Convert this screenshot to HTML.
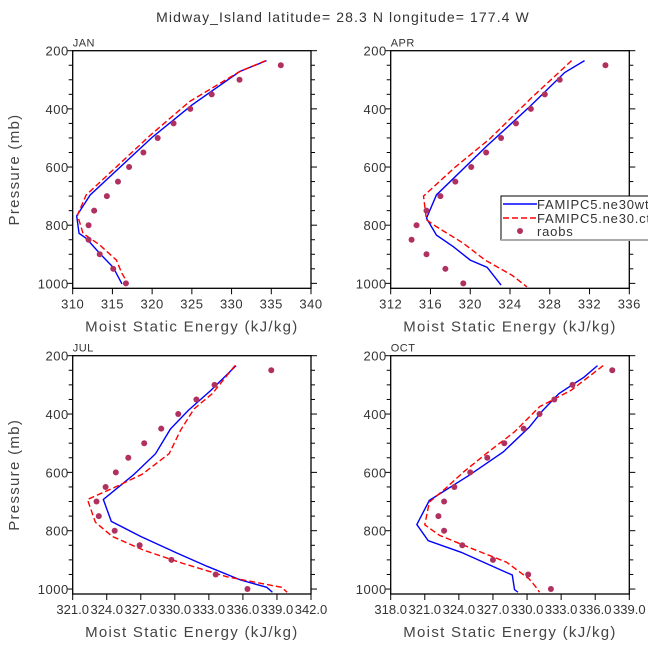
<!DOCTYPE html>
<html><head><meta charset="utf-8"><style>
body{margin:0;background:#fff}
svg{display:block;font-family:"Liberation Sans",sans-serif}
</style></head><body>
<svg id="c" width="648" height="649"></svg>
<script>
const pLevels=[250,300,350,400,450,500,550,600,650,700,750,800,850,900,950,1000];
const janObs=[336.2,331,327.5,324.8,322.7,320.7,318.9,317.1,315.7,314.3,312.7,312,312,313.4,315.1,316.7];
const janBlueX=[334.4,331.0,325,320,312.2,310.5,310.8,311.7,313.4,315.1,316.2];
const janBlueP=[234,272,387,498,696,768,828,845,897,945,1002];
const janRedX=[334.3,331,324.7,319.8,311.7,310.6,311.3,313.4,315.5,316.2,317.0];
const janRedP=[234,272,375,490,696,765,828,868,920,966,1002];
const aprObs=[333.6,329,327.5,326.1,324.6,323.1,321.6,320.1,318.5,317,315.6,314.6,314.1,315.6,317.5,319.3];
const aprBlueX=[331.5,329.5,326.0,321.6,316.6,315.6,316.6,318.3,320.0,321.7,323.1];
const aprBlueP=[234,275,392,530,696,776,834,874,920,945,1006];
const aprRedX=[330.2,326.1,322.0,318.5,315.3,315.6,316.6,319.3,321.5,322.8,324.2,325.7];
const aprRedP=[234,364,502,600,700,782,805,862,920,945,972,1012];
const julObs=[338.5,333.5,331.9,330.3,328.8,327.3,325.9,324.8,323.9,323.1,323.3,324.7,326.9,329.7,333.6,336.4];
const julBlueX=[335.4,333.2,331.2,329.6,328.3,326.4,323.7,324.4,327.0,330.2,332.9,335.8,338.1,338.6];
const julBlueP=[234,318,387,452,536,607,693,768,820,877,923,969,994,1011];
const julRedX=[335.3,333.3,331.7,330.5,329.5,327.1,324.6,322.3,323.0,324.5,327.2,330.7,334.6,339.4,339.9];
const julRedP=[234,330,382,456,536,607,653,693,771,820,866,912,958,994,1011];
const octObs=[337.5,334,332.4,331.1,329.7,328,326.5,325,323.6,322.7,322.2,322.7,324.3,327,330.1,332.1];
const octBlueX=[336.2,335.0,332.8,331.4,330.2,327.9,324.9,321.4,320.3,321.3,324.2,328.7,328.9,329.2];
const octBlueP=[234,274,330,387,445,530,610,696,779,834,874,952,1002,1011];
const octRedX=[336.7,333.9,331.1,328.9,326.4,324.4,322.8,321.4,321.0,322.3,325.2,328.2,330.2,330.8,331.1];
const octRedP=[234,318,375,461,536,599,656,702,780,816,862,908,966,994,1011];
const janTicks=[310,315,320,325,330,335,340];
const aprTicks=[312,316,320,324,328,332,336];
const julTicks=[321,324,327,330,333,336,339,342];
const octTicks=[318,321,324,327,330,333,336,339];
const yTicks=[200,400,600,800,1000];

const S='http://www.w3.org/2000/svg';
const svg=document.getElementById('c');
function el(t,a,parent){const e=document.createElementNS(S,t);for(const k in a)e.setAttribute(k,a[k]);(parent||svg).appendChild(e);return e;}
function txt(s,a,parent){const e=el('text',a,parent);e.textContent=s;return e;}

const t=txt('Midway_Island  latitude= 28.3 N longitude= 177.4 W',{x:343,y:22,'text-anchor':'middle','font-size':14,'letter-spacing':1.1,fill:'#333','xml:space':'preserve'});



function panel(name,L,R,T,B,xmin,xmax,ticks,dec,obs,bx,bp,rx,rp,showY){
  const g=el('g',{});
  
  
  const yPer=(B-T)/817;
  const Y=p=>T+(p-200)*yPer;
  const X=v=>L+(v-xmin)/(xmax-xmin)*(R-L);
  const fr=el('rect',{x:L,y:T,width:R-L,height:B-T,fill:'none',stroke:'#000','stroke-width':1.3},g);
  
  
  for(let p=200;p<=1000;p+=50){
    const major=p%200===0;const len=major?6:4;
    el('line',{x1:L-len,x2:L,y1:Y(p),y2:Y(p),stroke:'#000'},g);
    el('line',{x1:R,x2:R+len,y1:Y(p),y2:Y(p),stroke:'#000'},g);
  }
  for(const p of yTicks){
    const lb=txt(String(p),{x:L-4,y:Y(p)+5,'text-anchor':'end','font-size':13,'letter-spacing':0.5,fill:'#333'},g);
    
    
  }
  for(const v of ticks){
    el('line',{x1:X(v),x2:X(v),y1:B,y2:B+6,stroke:'#000'},g);
    const lb=txt(dec?v.toFixed(1):String(v),{x:X(v),y:B+20,'text-anchor':'middle','font-size':13,'letter-spacing':dec?0:0.5,fill:'#333'},g);
    
    
  }
  const xt=txt('Moist Static Energy (kJ/kg)',{x:(L+R)/2,y:B+43,'text-anchor':'middle','font-size':15,'letter-spacing':1.3,fill:'#444'},g);
  
  
  if(showY){
    const yt=txt('Pressure (mb)',{x:0,y:0,transform:`translate(19,${(T+B)/2}) rotate(-90)`,'text-anchor':'middle','font-size':15,'letter-spacing':1.3,fill:'#444'},g);
    
    
  }
  const pn=txt(name,{x:L,y:T-4,'font-size':11,'letter-spacing':0.5,fill:'#333'},g);
  
  
  const bl=el('polyline',{points:bx.map((v,i)=>X(v)+','+Y(bp[i])).join(' '),fill:'none',stroke:'#0000ff','stroke-width':1.4},g);
  
  
  const rl=el('polyline',{points:rx.map((v,i)=>X(v)+','+Y(rp[i])).join(' '),fill:'none',stroke:'#ff0000','stroke-width':1.4,'stroke-dasharray':'6,3'},g);
  
  
  obs.forEach((v,i)=>{
    const c=el('circle',{cx:X(v),cy:Y(pLevels[i]),r:3,fill:'#b03060'},g);
    
    
  });
}
panel('JAN',72.7,311,50.7,288.3,310,340,janTicks,false,janObs,janBlueX,janBlueP,janRedX,janRedP,true);
panel('APR',390.7,629.3,50.7,288.3,312,336,aprTicks,false,aprObs,aprBlueX,aprBlueP,aprRedX,aprRedP,false);
panel('JUL',72.7,311,355.7,594,321,342,julTicks,true,julObs,julBlueX,julBlueP,julRedX,julRedP,true);
panel('OCT',390.7,629.3,355.7,594,318,339,octTicks,true,octObs,octBlueX,octBlueP,octRedX,octRedP,false);

const lg=el('g',{});


el('rect',{x:501,y:196,width:150,height:44,fill:'#fff',stroke:'#000','stroke-width':1},lg);
el('line',{x1:501,x2:648,y1:240,y2:240,stroke:'#aaa','stroke-width':2},lg);
el('line',{x1:503,x2:537,y1:204,y2:204,stroke:'#0000ff','stroke-width':1.5},lg);
el('line',{x1:503,x2:537,y1:218,y2:218,stroke:'#ff0000','stroke-width':1.5,'stroke-dasharray':'6,3'},lg);
el('circle',{cx:520,cy:231,r:3,fill:'#b03060'},lg);
const l1=txt('FAMIPC5.ne30wtb',{x:537,y:209,'font-size':13,'letter-spacing':0.8,fill:'#333'},lg);


const l2=txt('FAMIPC5.ne30.ctl',{x:537,y:223,'font-size':13,'letter-spacing':0.8,fill:'#333'},lg);


const l3=txt('raobs',{x:537,y:236,'font-size':13,'letter-spacing':0.8,fill:'#333'},lg);


</script>
</body></html>
